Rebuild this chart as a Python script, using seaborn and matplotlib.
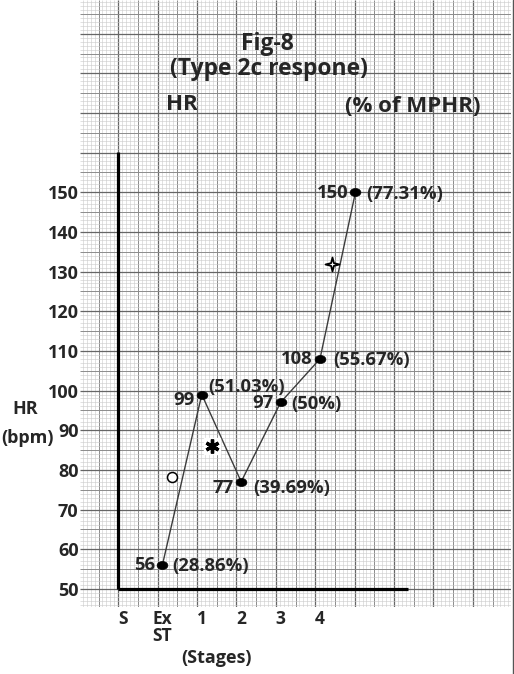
"""
Fig-8, type 2c heart rate response drawn on graph paper.
"""

import numpy as np
import seaborn as sns
import matplotlib.pyplot as plt
from matplotlib.path import Path
from matplotlib.transforms import Affine2D
from matplotlib.lines import Line2D

# stage axis
stage_labels = ['S', 'Ex\nST', '1', '2', '3', '4']
stage_ticks = [0, 1, 2, 3, 4, 5]

# readings: stage position, heart rate (bpm), % of MPHR
stage_pos = [1, 2, 3, 4, 5, 5.9]
hr = [56, 99, 77, 97, 108, 150]
pct = ['28.86', '51.03', '39.69', '50', '55.67', '77.31']

hr_ticks = list(range(50, 160, 10))

# segment symbols (circle, asterisk, star) placed beside the line
sym_x = [1.24, 2.25, 5.30]
sym_y = [78.3, 86.0, 131.8]

# label nudges in pixels (number / percentage), down is positive
num_dy = [0, 5, 6, 1, 0, 1]
pct_dx = [10, 6, 12, 11, 13, 11]
pct_dy = [1, -8, 6, 2, 1, 2]

sns.set_style('white')
plt.rcParams['font.family'] = ['Open Sans', 'DejaVu Sans']
plt.rcParams['font.weight'] = 'bold'

W, H = 514, 674
fig = plt.figure(figsize=(W / 100, H / 100), dpi=100)
ax = fig.add_axes([80 / W, 67 / H, 431 / W, 607 / H])
ax.set_xlim(-1.091, 9.848)
ax.set_ylim(45.41, 198.5)

# graph paper
k = np.arange(-9, 100)
gx = -0.12 + 0.1 * k
cx = np.where(k % 10 == 0, '#666666', np.where(k % 5 == 0, '#8c8c8c', '#cacaca'))
wx = np.where(k % 10 == 0, 0.9, np.where(k % 5 == 0, 0.7, 0.4))
ax.vlines(gx, 45.41, 198.5, colors=cx, linewidths=wx, zorder=0)
v = np.arange(46, 199)
cy = np.where(v % 10 == 0, '#666666', np.where(v % 5 == 0, '#8c8c8c', '#cacaca'))
wy = np.where(v % 10 == 0, 0.9, np.where(v % 5 == 0, 0.7, 0.4))
ax.hlines(v, -1.091, 9.848, colors=cy, linewidths=wy, zorder=0)

# hand drawn axes
ax.plot([-0.12, -0.12], [50, 160.2], color='black', lw=2.3, zorder=2,
        solid_capstyle='butt')
ax.plot([-0.12, 7.23], [50, 50], color='black', lw=2.3, zorder=2,
        solid_capstyle='butt')

# data line and dots
sns.lineplot(x=stage_pos, y=hr, sort=False, color='#3c3c3c', lw=1.0,
             ax=ax, zorder=3)
dot = Path.unit_circle().transformed(Affine2D().scale(1.0, 0.75))
sns.scatterplot(x=stage_pos, y=hr, marker=dot, s=60, color='black',
                edgecolor='black', linewidth=0.5, ax=ax, zorder=4)

for x, y, d, px, py, p in zip(stage_pos, hr, num_dy, pct_dx, pct_dy, pct):
    ax.annotate(str(y), (x, y), xytext=(-7 * 0.72, -d * 0.72),
                textcoords='offset points', ha='right', va='center',
                fontsize=13.3, fontweight='bold', zorder=5)
    ax.annotate('(' + p + '%)', (x, y), xytext=(px * 0.72, -py * 0.72),
                textcoords='offset points', ha='left', va='center',
                fontsize=13.3, fontweight='bold', zorder=5)

# segment symbols
ax.plot(sym_x[0], sym_y[0], marker='o', ms=7.2, mfc='white', mec='black',
        mew=1.1, zorder=5)
ax.plot(sym_x[1], sym_y[1], marker='s', ms=12, mfc='white', mec='white',
        zorder=5)
ax.plot(sym_x[1], sym_y[1], marker=(6, 2, 0), ms=10, mew=2.4,
        color='black', zorder=6)
a = 0.2
star = Path([(0, 1), (a, a), (1, 0), (a, -a), (0, -1), (-a, -a), (-1, 0),
             (-a, a), (0, 1)], closed=True)
ax.plot(sym_x[2], sym_y[2], marker=star, ms=10, mfc='white', mec='black',
        mew=1.3, zorder=5)

ax.set_xticks(stage_ticks)
ax.set_xticklabels(stage_labels, fontsize=12.5, fontweight='bold',
                   linespacing=0.95)
ax.set_yticks(hr_ticks)
ax.set_yticklabels([str(t) for t in hr_ticks], fontsize=13,
                   fontweight='bold')
ax.tick_params(axis='x', length=0, pad=2)
ax.tick_params(axis='y', length=0, pad=1)
for s in ax.spines.values():
    s.set_visible(False)

# titles and axis captions
fig.text(267 / W, 1 - 44 / H, 'Fig-8', ha='center', va='center',
         fontsize=16.5, fontweight='bold')
fig.text(269 / W, 1 - 69 / H, '(Type 2c respone)', ha='center',
         va='center', fontsize=16.5, fontweight='bold')
fig.text(182 / W, 1 - 105 / H, 'HR', ha='center', va='center',
         fontsize=16, fontweight='bold')
fig.text(413 / W, 1 - 106 / H, '(% of MPHR)', ha='center', va='center',
         fontsize=16, fontweight='bold')
fig.text(25 / W, 1 - 409 / H, 'HR', ha='center', va='center',
         fontsize=13, fontweight='bold')
fig.text(27 / W, 1 - 438 / H, '(bpm)', ha='center', va='center',
         fontsize=13, fontweight='bold')
fig.text(217 / W, 1 - 658 / H, '(Stages)', ha='center', va='center',
         fontsize=13, fontweight='bold')

# scan edge on the right
fig.add_artist(Line2D([512.5 / W, 512.5 / W], [0, 1], color='#555555',
                      lw=1.0))

fig.savefig('out.png', dpi=100)
